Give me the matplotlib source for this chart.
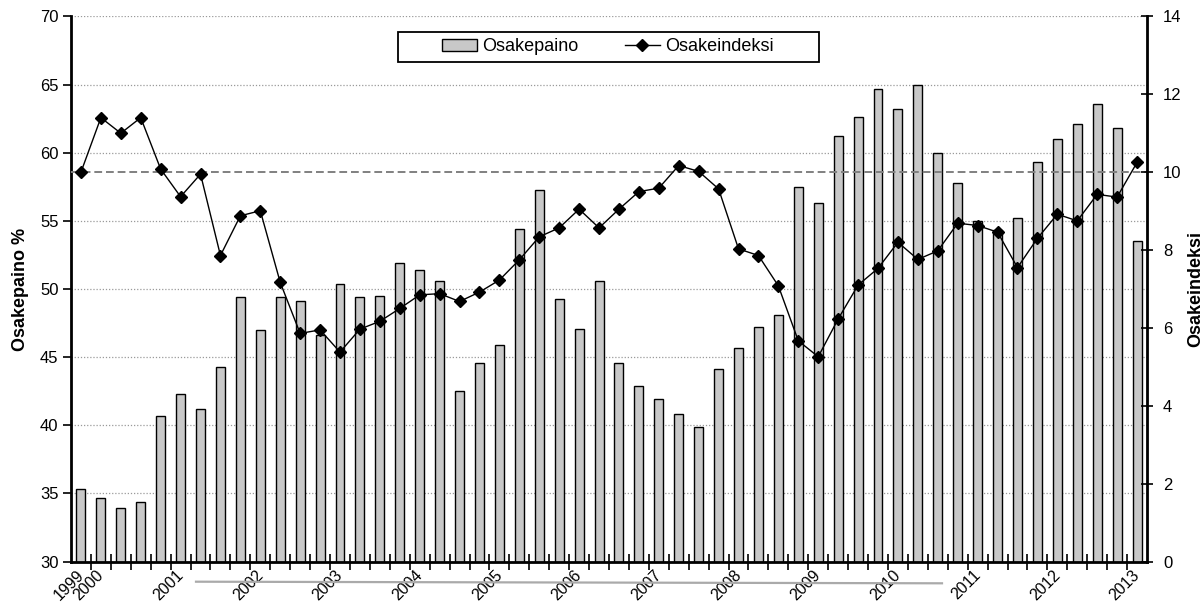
import matplotlib
matplotlib.use("Agg")
import matplotlib.pyplot as plt
from matplotlib.patches import Rectangle
from matplotlib.lines import Line2D
from matplotlib.transforms import ScaledTranslation
import numpy as np

plt.rcParams['font.family'] = ['Liberation Sans', 'DejaVu Sans']

# Quarterly observations, 1999 Q4 .. 2013 Q1
osakepaino = [35.3, 34.7, 33.9, 34.4, 40.7, 42.3, 41.2, 44.3, 49.4, 47.0,
              49.4, 49.1, 46.6, 50.4, 49.4, 49.5, 51.9, 51.4, 50.6, 42.5,
              44.6, 45.9, 54.4, 57.3, 49.3, 47.1, 50.6, 44.6, 42.9, 41.9,
              40.8, 39.9, 44.1, 45.7, 47.2, 48.1, 57.5, 56.3, 61.2, 62.6,
              64.7, 63.2, 65.0, 60.0, 57.8, 55.0, 54.3, 55.2, 59.3, 61.0,
              62.1, 63.6, 61.8, 53.5]
osakeindeksi = [10.0, 11.4, 11.0, 11.4, 10.08, 9.37, 9.95, 7.86, 8.88, 9.01,
                7.17, 5.86, 5.95, 5.38, 5.97, 6.17, 6.50, 6.85, 6.88, 6.68,
                6.92, 7.23, 7.75, 8.34, 8.57, 9.05, 8.57, 9.05, 9.50, 9.59,
                10.17, 10.02, 9.57, 8.03, 7.86, 7.08, 5.67, 5.26, 6.23, 7.10,
                7.53, 8.20, 7.76, 7.98, 8.69, 8.63, 8.46, 7.55, 8.30, 8.92,
                8.75, 9.43, 9.36, 10.25]
year_positions = [0, 1, 5, 9, 13, 17, 21, 25, 29, 33, 37, 41, 45, 49, 53]
year_labels = ['1999', '2000', '2001', '2002', '2003', '2004', '2005', '2006',
               '2007', '2008', '2009', '2010', '2011', '2012', '2013']
reference_level = 10.0

W, H = 1203, 605
fig = plt.figure(figsize=(W / 100, H / 100), dpi=100)
ax = fig.add_axes([71 / W, 1 - 561.6 / H, (1147 - 71) / W, (561.6 - 16.4) / H])
ax2 = ax.twinx()

n = len(osakepaino)
x = np.arange(n)

bars = ax.bar(x, osakepaino, width=0.45, color='#c8c8c8', edgecolor='black',
              linewidth=1.0, label='Osakepaino', zorder=2)
ax.set_ylim(30, 70)
ax.set_xlim(-0.5, n - 0.5)
ax.set_yticks(np.arange(30, 71, 5))
ax.yaxis.grid(True, linestyle=(0, (1, 1.5)), color='#9a9a9a', linewidth=0.9)
ax.set_axisbelow(True)

line, = ax2.plot(x, osakeindeksi, color='black', linewidth=1.0, marker='D',
                 markersize=6, label='Osakeindeksi', zorder=3)
ax2.axhline(reference_level, color='#808080', linestyle=(0, (4, 2)), linewidth=1.4, zorder=1)
ax2.set_ylim(0, 14)
ax2.set_yticks(np.arange(0, 15, 2))

# spines
for a in (ax, ax2):
    a.spines['top'].set_visible(False)
ax.spines['left'].set_linewidth(2.0)
ax.spines['bottom'].set_linewidth(2.0)
ax2.spines['right'].set_linewidth(2.0)
ax2.spines['left'].set_visible(False)
ax2.spines['bottom'].set_visible(False)

# x ticks: marks at quarter boundaries; year labels under first quarter of each year
ax.set_xticks(np.arange(0.5, n - 0.5, 1.0), minor=True)
ax.set_xticks([])
ax.tick_params(axis='x', which='minor', direction='inout', length=11, width=1.2)
label_offset = ScaledTranslation(-5 / 100, -6 / 100, fig.dpi_scale_trans)
for pos, txt in zip(year_positions, year_labels):
    ax.text(pos, 0, txt, transform=ax.get_xaxis_transform() + label_offset,
            rotation=45, ha='right', va='top', rotation_mode='anchor',
            fontsize=11.5, clip_on=False)

ax.tick_params(axis='y', direction='out', length=6, width=1.2, labelsize=12, pad=3)
ax2.tick_params(axis='y', direction='inout', length=9, width=1.2, labelsize=12, pad=7)

ax.set_ylabel('Osakepaino %', fontsize=13, fontweight='bold', labelpad=8)
ax2.set_ylabel('Osakeindeksi', fontsize=13, fontweight='bold', labelpad=4)

# legend
fig.legend(handles=[bars, line], labels=['Osakepaino', 'Osakeindeksi'], ncol=2,
           loc='center', bbox_to_anchor=(608 / W, 1 - 46.7 / H), frameon=False,
           fontsize=13, handlelength=1.9, handletextpad=0.3, columnspacing=2.6)
fig.patches.append(Rectangle((398 / W, 1 - 61.7 / H), (819 - 398) / W, 30 / H,
                             transform=fig.transFigure, fill=False,
                             edgecolor='black', linewidth=1.3))
fig.lines.append(Line2D([196 / W, 942 / W], [1 - 581.7 / H, 1 - 583.3 / H],
                        transform=fig.transFigure, color='#aaaaaa', linewidth=1.6))

fig.savefig('out.png', dpi=100)
